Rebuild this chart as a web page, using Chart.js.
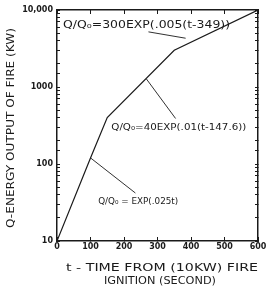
<!DOCTYPE html>
<html>
<head>
<meta charset="utf-8">
<script src="https://cdn.jsdelivr.net/npm/chart.js@4.4.1/dist/chart.umd.min.js"></script>
<style>
  html, body { margin: 0; padding: 0; background: #fff; }
  #wrap { width: 266px; height: 294px; position: relative; }
</style>
</head>
<body>
<div id="wrap"><canvas id="c" width="266" height="294"></canvas></div>
<script>
// curve: time (s) -> Q (kW)
const times = [0, 100, 150, 350, 600];
const energy = [10, 120, 400, 3000, 10000];
const xTicks = [0, 100, 200, 300, 400, 500, 600];
const yDecades = [10, 100, 1000, 10000];
const yTickLabels = ['10', '100', '1000', '10,000'];

// annotation texts with leader lines, in data coordinates [t, Q]
const notes = [
  { text: 'Q/Q\u2080=300EXP(.005(t-349))', at: [18, 6300], from: [384, 4300], to: [273, 5200], w: 167, size: 10 },
  { text: 'Q/Q\u2080=40EXP(.01(t-147.6))', at: [162, 300], from: [267, 1270], to: [354, 390], w: 135, size: 9 },
  { text: 'Q/Q\u2080 = EXP(.025t)', at: [123, 32], from: [100, 120], to: [234, 42], w: 80, size: 9 }
];

const INK = '#1a1a1a';
const FONT = '"DejaVu Sans", sans-serif';

// draw text stretched to a given width
function wideText(ctx, txt, x, y, w, align) {
  const m = ctx.measureText(txt).width;
  ctx.save();
  ctx.translate(x, y);
  ctx.scale(w / m, 1);
  ctx.textAlign = align;
  ctx.fillText(txt, 0, 0);
  ctx.restore();
}

const decor = {
  id: 'decor',
  afterDraw(chart) {
    const ctx = chart.ctx;
    const xs = chart.scales.x, ys = chart.scales.y;
    ctx.save();
    ctx.strokeStyle = INK;
    ctx.fillStyle = INK;
    ctx.textBaseline = 'middle';
    ctx.lineWidth = 0.9;
    notes.forEach(n => {
      ctx.beginPath();
      ctx.moveTo(xs.getPixelForValue(n.from[0]), ys.getPixelForValue(n.from[1]));
      ctx.lineTo(xs.getPixelForValue(n.to[0]), ys.getPixelForValue(n.to[1]));
      ctx.stroke();
      ctx.font = n.size + 'px ' + FONT;
      wideText(ctx, n.text, xs.getPixelForValue(n.at[0]), ys.getPixelForValue(n.at[1]), n.w, 'left');
    });
    // axis titles
    ctx.font = '10px ' + FONT;
    ctx.save();
    ctx.translate(11, 128);
    ctx.rotate(-Math.PI / 2);
    wideText(ctx, 'Q-ENERGY OUTPUT OF FIRE (KW)', 0, 0, 200, 'center');
    ctx.restore();
    ctx.font = '11px ' + FONT;
    wideText(ctx, 't - TIME FROM (10KW) FIRE', 162, 268, 192, 'center');
    wideText(ctx, 'IGNITION (SECOND)', 160, 281, 112, 'center');
    ctx.restore();
  }
};

const edge = { display: true, color: INK, width: 1.5 };
const inTicks = len => ({ drawOnChartArea: false, drawTicks: true, tickLength: -len, color: INK, tickColor: INK, tickWidth: 1 });
const xTickSet = s => { s.ticks = xTicks.map(v => ({ value: v })); };
const noOverflow = s => { s.paddingLeft = 0; s.paddingRight = 0; s.paddingTop = 0; s.paddingBottom = 0; };

new Chart(document.getElementById('c'), {
  type: 'line',
  data: {
    datasets: [{
      data: times.map((t, i) => ({ x: t, y: energy[i] })),
      borderColor: INK,
      borderWidth: 1.2,
      pointRadius: 0,
      tension: 0,
      fill: false
    }]
  },
  options: {
    responsive: false,
    animation: false,
    events: [],
    layout: { padding: { top: 10, right: 8, left: 0, bottom: 0 } },
    plugins: { legend: { display: false }, tooltip: { enabled: false } },
    scales: {
      x: {
        type: 'linear', min: 0, max: 600, position: 'bottom',
        border: edge,
        grid: inTicks(4),
        afterBuildTicks: xTickSet,
        ticks: { color: INK, padding: 5, font: { family: 'DejaVu Sans', size: 8, weight: 'bold' }, maxRotation: 0, autoSkip: false },
        afterFit: s => { s.height = 53; noOverflow(s); }
      },
      x2: {
        type: 'linear', min: 0, max: 600, position: 'top',
        border: edge,
        grid: inTicks(4),
        afterBuildTicks: xTickSet,
        ticks: { display: false },
        afterFit: s => { s.height = 0; noOverflow(s); }
      },
      y: {
        type: 'logarithmic', min: 10, max: 10000, position: 'left',
        border: edge,
        grid: inTicks(3),
        ticks: {
          color: INK, padding: 7, autoSkip: false,
          font: { family: 'DejaVu Sans', size: 8, weight: 'bold' },
          callback: v => { const i = yDecades.indexOf(v); return i < 0 ? '' : yTickLabels[i]; }
        },
        afterFit: s => { s.width = 57; noOverflow(s); }
      },
      y2: {
        type: 'logarithmic', min: 10, max: 10000, position: 'right',
        border: edge,
        grid: inTicks(3),
        ticks: { display: false, autoSkip: false },
        afterFit: s => { s.width = 0; noOverflow(s); }
      }
    }
  },
  plugins: [decor]
});
</script>
</body>
</html>
